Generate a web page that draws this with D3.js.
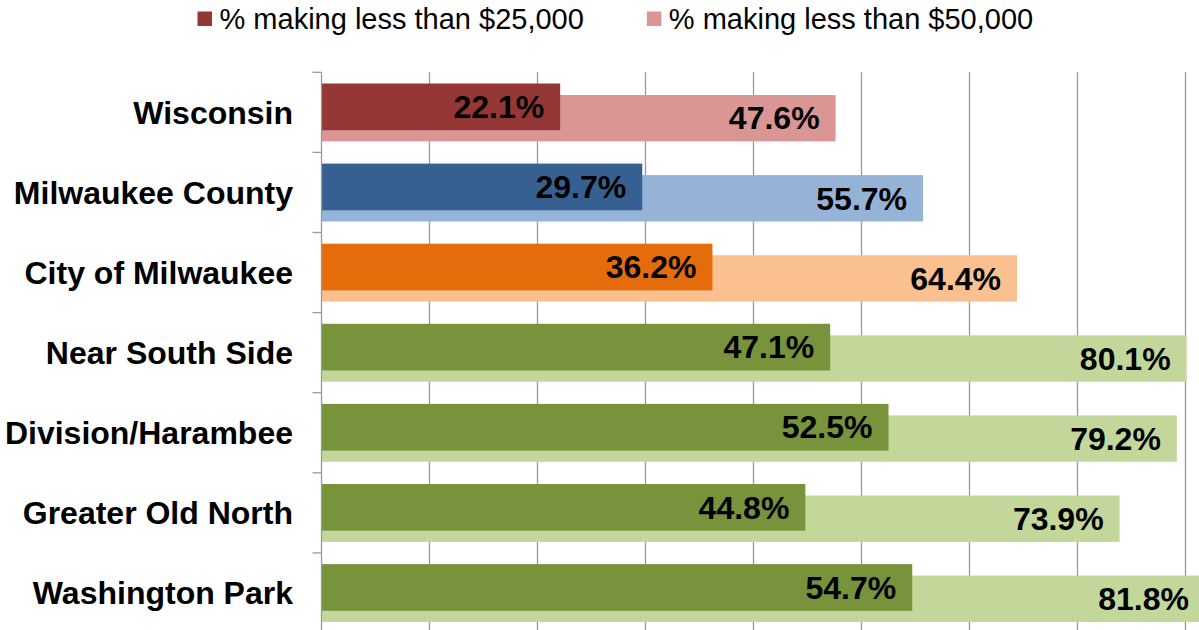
<!DOCTYPE html>
<html>
<head>
<meta charset="utf-8">
<script src="https://cdn.jsdelivr.net/npm/d3@7"></script>
<style>
  html, body { margin: 0; padding: 0; background: #fff; }
  svg { display: block; font-family: "Liberation Sans", Arial, sans-serif; }
</style>
</head>
<body>
<svg id="chart" width="1199" height="630"></svg>
<script>
const categories = ["Wisconsin", "Milwaukee County", "City of Milwaukee", "Near South Side", "Division/Harambee", "Greater Old North", "Washington Park"];
const under25 = [22.1, 29.7, 36.2, 47.1, 52.5, 44.8, 54.7];
const under50 = [47.6, 55.7, 64.4, 80.1, 79.2, 73.9, 81.8];
const darkColors = ["#953735", "#366092", "#E46C0A", "#77933C", "#77933C", "#77933C", "#77933C"];
const lightColors = ["#D99694", "#95B3D7", "#FAC090", "#C4D79B", "#C4D79B", "#C4D79B", "#C4D79B"];
const xTicks = [0, 10, 20, 30, 40, 50, 60, 70, 80, 90];
const legendLabels = ["% making less than $25,000", "% making less than $50,000"];
const legendColors = ["#953735", "#D99694"];

const svg = d3.select("#chart");
const W = 1199, H = 630;

const plotLeft = 321.5, plotTop = 72.3, band = 80.1;
const x = d3.scaleLinear().domain([0, 90]).range([plotLeft, plotLeft + 90 * 10.8]);
const y = d3.scaleBand().domain(categories).range([plotTop, plotTop + band * categories.length]).padding(0);

const darkOff = 11.2, darkH = 46.7, lightOff = 22.7, lightH = 46.4;

// gridlines
svg.append("g").selectAll("line").data(xTicks.slice(1)).join("line")
  .attr("x1", d => x(d)).attr("x2", d => x(d))
  .attr("y1", plotTop).attr("y2", H + 10)
  .attr("stroke", "#9a9a9a").attr("stroke-width", 1.3);

// light bars
const rows = categories.map((c, i) => ({ c, i, d25: under25[i], d50: under50[i] }));
svg.append("g").selectAll("rect").data(rows).join("rect")
  .attr("x", x(0)).attr("y", d => y(d.c) + lightOff)
  .attr("width", d => x(d.d50) - x(0)).attr("height", lightH)
  .attr("fill", d => lightColors[d.i]);

// dark bars
svg.append("g").selectAll("rect").data(rows).join("rect")
  .attr("x", x(0)).attr("y", d => y(d.c) + darkOff)
  .attr("width", d => x(d.d25) - x(0)).attr("height", darkH)
  .attr("fill", d => darkColors[d.i]);

// left axis line and ticks
svg.append("line").attr("x1", plotLeft).attr("x2", plotLeft).attr("y1", plotTop).attr("y2", H + 10)
  .attr("stroke", "#9a9a9a").attr("stroke-width", 1.3);
const bounds = categories.map(c => y(c)).concat([plotTop + band * categories.length]);
svg.append("g").selectAll("line").data(bounds).join("line")
  .attr("x1", plotLeft - 9).attr("x2", plotLeft).attr("y1", d => d).attr("y2", d => d)
  .attr("stroke", "#9a9a9a").attr("stroke-width", 1.3);

// category labels
svg.append("g").selectAll("text").data(categories).join("text")
  .attr("x", 293).attr("y", d => y(d) + band / 2).attr("dy", "0.35em")
  .attr("text-anchor", "end").attr("font-size", 32).attr("font-weight", "bold").attr("fill", "#000")
  .text(d => d);

// data labels
svg.append("g").selectAll("text").data(rows).join("text")
  .attr("x", d => x(d.d25) - 16).attr("y", d => y(d.c) + darkOff + darkH / 2).attr("dy", "0.35em")
  .attr("text-anchor", "end").attr("font-size", 32).attr("font-weight", "bold").attr("fill", "#000")
  .text(d => d.d25.toFixed(1) + "%");
svg.append("g").selectAll("text").data(rows).join("text")
  .attr("x", d => x(d.d50) - 16).attr("y", d => y(d.c) + lightOff + lightH / 2).attr("dy", "0.35em")
  .attr("text-anchor", "end").attr("font-size", 32).attr("font-weight", "bold").attr("fill", "#000")
  .text(d => d.d50.toFixed(1) + "%");

// legend
const lg = svg.append("g");
let lx = 197.5;
legendLabels.forEach((lab, i) => {
  lg.append("rect").attr("x", lx).attr("y", 11.5).attr("width", 14.5).attr("height", 14.5).attr("fill", legendColors[i]);
  const t = lg.append("text").attr("x", lx + 22).attr("y", 18.5).attr("dy", "0.35em")
    .attr("font-size", 29).attr("fill", "#000").text(lab);
  const w = t.node().getComputedTextLength();
  lx = lx + 22 + w + 63;
});
</script>
</body>
</html>
